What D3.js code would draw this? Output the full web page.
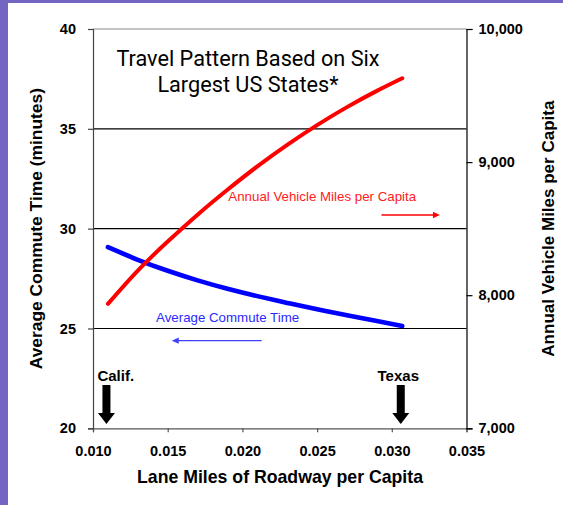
<!DOCTYPE html>
<html>
<head>
<meta charset="utf-8">
<script src="https://cdn.jsdelivr.net/npm/d3@7/dist/d3.min.js"></script>
<style>
  html, body { margin: 0; padding: 0; background: #7366c2; }
  svg { display: block; }
</style>
</head>
<body>
<svg id="chart" width="563" height="505"></svg>
<script>
// Lane miles of roadway per capita (x) for the fitted travel curves
const laneMiles = [0.011, 0.013, 0.015, 0.017, 0.019, 0.021, 0.023, 0.025, 0.027, 0.029, 0.0307];
// Average commute time, minutes (left axis)
const commuteTime = [29.07, 28.44, 27.89, 27.41, 26.99, 26.62, 26.28, 25.96, 25.66, 25.37, 25.12];
// Annual vehicle miles per capita (right axis)
const vehicleMiles = [7935, 8185, 8403, 8605, 8792, 8968, 9130, 9278, 9413, 9535, 9630];

const xTicks = [0.010, 0.015, 0.020, 0.025, 0.030, 0.035];
const leftTicks = [20, 25, 30, 35, 40];
const rightTicks = [7000, 8000, 9000, 10000];
const gridValues = [25, 30, 35];

const states = ["Calif.", "Texas"];
const stateLaneMiles = [0.0109, 0.0306];

const titleLines = ["Travel Pattern Based on Six", "Largest US States*"];

const svg = d3.select("#chart");

// white panel inside the purple frame
svg.append("rect").attr("x", 8).attr("y", 3).attr("width", 555).attr("height", 502).attr("fill", "#ffffff");

const plotLeft = 93, plotRight = 466.5, plotTop = 29, plotBottom = 428.3;
const x = d3.scaleLinear().domain([0.010, 0.035]).range([plotLeft, plotRight]);
const yL = d3.scaleLinear().domain([20, 40]).range([plotBottom, plotTop]);
const yR = d3.scaleLinear().domain([7000, 10000]).range([plotBottom, plotTop]);

const axisFont = "'Liberation Sans', Arial, sans-serif";

// gridlines
svg.append("g").selectAll("line").data(gridValues).join("line")
  .attr("x1", plotLeft).attr("x2", plotRight)
  .attr("y1", d => yL(d)).attr("y2", d => yL(d))
  .attr("stroke", "#000").attr("stroke-width", 1.1);

// top border line of the plot
svg.append("line").attr("x1", plotLeft).attr("x2", plotRight).attr("y1", plotTop).attr("y2", plotTop)
  .attr("stroke", "#8a8a8a").attr("stroke-width", 1.1);

function styleAxis(g, color) {
  g.select(".domain").attr("stroke", color).attr("stroke-width", 1.2);
  g.selectAll(".tick line").attr("stroke", color).attr("stroke-width", 1.2);
  g.selectAll(".tick text")
    .attr("fill", "#000")
    .attr("font-family", axisFont)
    .attr("font-weight", "bold")
    .attr("font-size", "14.5px");
}

// bottom axis
const gx = svg.append("g").attr("transform", `translate(0,${plotBottom})`)
  .call(d3.axisBottom(x).tickValues(xTicks).tickFormat(d3.format(".3f")).tickSizeOuter(0).tickSize(4).tickPadding(13));
styleAxis(gx, "#555");

// left axis
const gl = svg.append("g").attr("transform", `translate(${plotLeft},0)`)
  .call(d3.axisLeft(yL).tickValues(leftTicks).tickFormat(d3.format("d")).tickSizeOuter(0).tickSize(5).tickPadding(12));
styleAxis(gl, "#444");

// right axis
const gr = svg.append("g").attr("transform", `translate(${plotRight},0)`)
  .call(d3.axisRight(yR).tickValues(rightTicks).tickFormat(d3.format(",")).tickSizeOuter(0).tickSize(6).tickPadding(6));
styleAxis(gr, "#000");

// axis titles
svg.append("text")
  .attr("x", 280).attr("y", 483)
  .attr("text-anchor", "middle")
  .attr("font-family", axisFont).attr("font-weight", "bold").attr("font-size", "17.7px")
  .text("Lane Miles of Roadway per Capita");

svg.append("text")
  .attr("transform", `translate(42,${(plotTop + plotBottom) / 2}) rotate(-90)`)
  .attr("text-anchor", "middle")
  .attr("font-family", axisFont).attr("font-weight", "bold").attr("font-size", "17.4px")
  .text("Average Commute Time (minutes)");

svg.append("text")
  .attr("transform", `translate(554,${(plotTop + plotBottom) / 2}) rotate(-90)`)
  .attr("text-anchor", "middle")
  .attr("font-family", axisFont).attr("font-weight", "bold").attr("font-size", "17px")
  .text("Annual Vehicle Miles per Capita");

// chart title
const title = svg.append("text")
  .attr("text-anchor", "middle")
  .attr("font-family", "Roboto, 'Noto Sans', sans-serif")
  .attr("font-size", "21.7px")
  .attr("fill", "#000");
title.selectAll("tspan").data(titleLines).join("tspan")
  .attr("x", 248).attr("y", (d, i) => 66 + i * 25.7)
  .text(d => d);

// curves
const commutePts = laneMiles.map((v, i) => [v, commuteTime[i]]);
const milesPts = laneMiles.map((v, i) => [v, vehicleMiles[i]]);

svg.append("path")
  .datum(commutePts)
  .attr("fill", "none").attr("stroke", "#0000ff").attr("stroke-width", 4.6)
  .attr("stroke-linecap", "round")
  .attr("d", d3.line().x(d => x(d[0])).y(d => yL(d[1])).curve(d3.curveNatural));

svg.append("path")
  .datum(milesPts)
  .attr("fill", "none").attr("stroke", "#ff0000").attr("stroke-width", 4)
  .attr("stroke-linecap", "round")
  .attr("d", d3.line().x(d => x(d[0])).y(d => yR(d[1])).curve(d3.curveNatural));

// series labels with direction arrows pointing to their axes
const labelFont = "'Liberation Sans', Arial, sans-serif";
svg.append("text")
  .attr("x", x(0.01906)).attr("y", yR(8710))
  .attr("font-family", labelFont).attr("font-size", "13.3px").attr("fill", "#ff2020")
  .text("Annual Vehicle Miles per Capita");

svg.append("text")
  .attr("x", x(0.01422)).attr("y", yL(25.32))
  .attr("font-family", labelFont).attr("font-size", "13.3px").attr("fill", "#2a2aff")
  .text("Average Commute Time");

function hArrow(x1, x2, y, color) {
  const dir = Math.sign(x2 - x1);
  svg.append("line").attr("x1", x1).attr("x2", x2 - dir * 5).attr("y1", y).attr("y2", y)
    .attr("stroke", color).attr("stroke-width", 1.4);
  svg.append("path")
    .attr("d", `M${x2},${y} L${x2 - dir * 7},${y - 3.2} L${x2 - dir * 7},${y + 3.2} Z`)
    .attr("fill", color);
}
hArrow(x(0.02931), x(0.03322), yR(8603), "#ff0000");
hArrow(x(0.02129), x(0.01527), yL(24.39), "#4040ff");

// state markers
const stateG = svg.append("g").selectAll("g").data(states).join("g")
  .attr("transform", (d, i) => `translate(${x(stateLaneMiles[i])},0)`);
stateG.append("path")
  .attr("d", "M-4,385 L4,385 L4,413 L8.5,413 L0,424 L-8.5,413 L-4,413 Z")
  .attr("fill", "#000");
stateG.append("text")
  .attr("x", (d, i) => i === 0 ? -9 : -2.5)
  .attr("y", 381)
  .attr("text-anchor", (d, i) => i === 0 ? "start" : "middle")
  .attr("font-family", axisFont).attr("font-weight", "bold").attr("font-size", "15px")
  .text(d => d);
</script>
</body>
</html>
